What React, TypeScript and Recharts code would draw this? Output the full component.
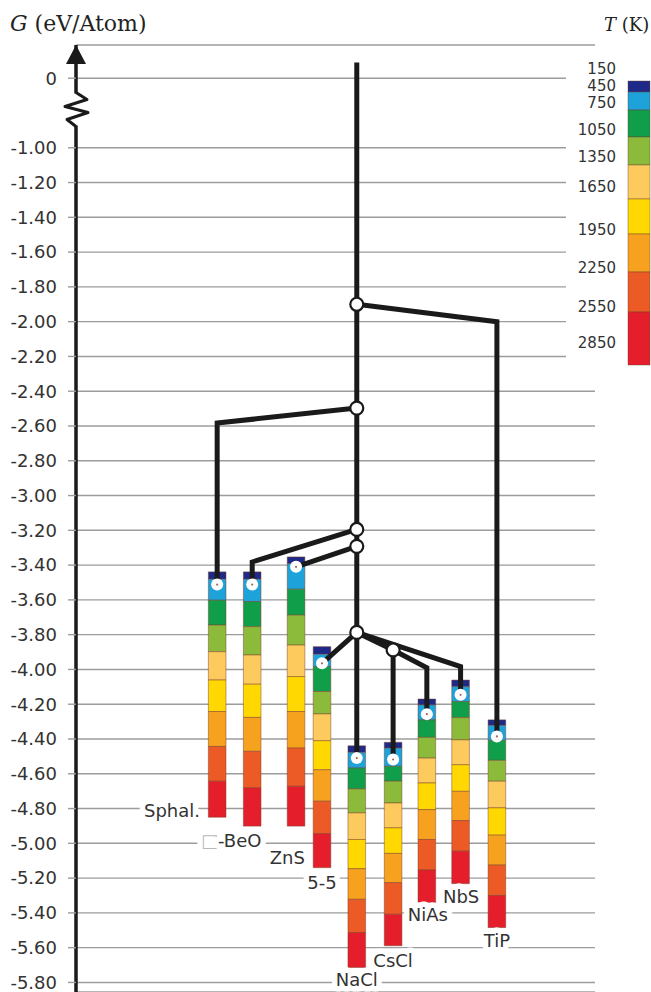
import React from "react";
import {
  ComposedChart,
  BarChart,
  Bar,
  Line,
  Scatter,
  XAxis,
  YAxis,
  CartesianGrid,
  ReferenceArea,
  ReferenceDot,
} from "recharts";

// G axis: the "0" tick sits above the axis break
const yTickValues = [
  -0.6, -1.0, -1.2, -1.4, -1.6, -1.8, -2.0, -2.2, -2.4, -2.6, -2.8, -3.0, -3.2,
  -3.4, -3.6, -3.8, -4.0, -4.2, -4.4, -4.6, -4.8, -5.0, -5.2, -5.4, -5.6, -5.8,
];
const yTickLabels = [
  "0", "-1.00", "-1.20", "-1.40", "-1.60", "-1.80", "-2.00", "-2.20", "-2.40",
  "-2.60", "-2.80", "-3.00", "-3.20", "-3.40", "-3.60", "-3.80", "-4.00",
  "-4.20", "-4.40", "-4.60", "-4.80", "-5.00", "-5.20", "-5.40", "-5.60", "-5.80",
];

// temperature bands (K)
const tempLabels = ["150", "450", "750", "1050", "1350", "1650", "1950", "2250", "2550", "2850"];
const bandColors = [
  "#1f2a88", "#1ea2da", "#119e4a", "#8cba3b", "#fdca5e",
  "#fed800", "#f6a21f", "#ec5a25", "#e51e2b",
];
const bandExtents = [11, 18, 27, 28, 34, 35, 38, 40, 53];
const tempTickOffsets = [-12, 5, 22, 49, 76, 106, 149, 187, 226, 262];

// structures, horizontal slot, G at 150,450,...,2850 K
const structures = ["Sphal.", "\u25A1-BeO", "ZnS", "5-5", "NaCl", "CsCl", "NiAs", "NbS", "TiP"];
const structureX = [27.2, 33.95, 42.4, 47.4, 54.1, 61.1, 67.6, 74.1, 81.1];
const edgesSphal = [-3.439, -3.481, -3.602, -3.745, -3.898, -4.061, -4.242, -4.443, -4.643, -4.85];
const edgesBeO = [-3.439, -3.481, -3.61, -3.754, -3.917, -4.085, -4.276, -4.471, -4.681, -4.901];
const edgesZnS = [-3.353, -3.392, -3.539, -3.688, -3.86, -4.041, -4.242, -4.452, -4.672, -4.901];
const edges55 = [-3.869, -3.913, -3.984, -4.127, -4.256, -4.41, -4.577, -4.758, -4.944, -5.14];
const edgesNaCl = [-4.439, -4.477, -4.567, -4.687, -4.825, -4.978, -5.146, -5.322, -5.513, -5.714];
const edgesCsCl = [-4.419, -4.452, -4.557, -4.643, -4.768, -4.911, -5.058, -5.226, -5.408, -5.589];
const edgesNiAs = [-4.17, -4.204, -4.29, -4.391, -4.51, -4.653, -4.806, -4.978, -5.153, -5.341];
const edgesNbS = [-4.061, -4.099, -4.185, -4.277, -4.405, -4.548, -4.701, -4.869, -5.045, -5.232];
const edgesTiP = [-4.29, -4.322, -4.408, -4.523, -4.643, -4.796, -4.953, -5.125, -5.3, -5.485];
const columnEdges = [
  edgesSphal, edgesBeO, edgesZnS, edges55, edgesNaCl, edgesCsCl, edgesNiAs, edgesNbS, edgesTiP,
];

// G where each tree branch meets its column (ground state)
const leafG = [-3.512, -3.512, -3.41, -3.965, -4.51, -4.518, -4.257, -4.146, -4.385];

// tree
const trunk = [{ x: 54.1, y: -0.51 }, { x: 54.1, y: -4.51 }];
const branchTiP = [{ x: 54.1, y: -1.9 }, { x: 81.1, y: -2.0 }, { x: 81.1, y: -4.385 }];
const branchSphal = [{ x: 54.1, y: -2.497 }, { x: 27.2, y: -2.583 }, { x: 27.2, y: -3.512 }];
const branchBeO = [{ x: 54.1, y: -3.195 }, { x: 33.95, y: -3.382 }, { x: 33.95, y: -3.512 }];
const branchZnS = [{ x: 54.1, y: -3.292 }, { x: 42.4, y: -3.41 }];
const branch55 = [{ x: 54.1, y: -3.787 }, { x: 47.4, y: -3.965 }];
const branchNbS = [{ x: 54.1, y: -3.787 }, { x: 74.1, y: -3.984 }, { x: 74.1, y: -4.146 }];
const branchSplit = [{ x: 54.1, y: -3.787 }, { x: 61.1, y: -3.888 }];
const branchNiAs = [{ x: 61.1, y: -3.888 }, { x: 67.6, y: -3.99 }, { x: 67.6, y: -4.257 }];
const branchCsCl = [{ x: 61.1, y: -3.888 }, { x: 61.1, y: -4.518 }];
const branches = [
  trunk, branchTiP, branchSphal, branchBeO, branchZnS, branch55, branchNbS,
  branchSplit, branchNiAs, branchCsCl,
];
const nodes = [
  { x: 54.1, y: -1.9 }, { x: 54.1, y: -2.497 }, { x: 54.1, y: -3.195 },
  { x: 54.1, y: -3.292 }, { x: 54.1, y: -3.787 }, { x: 61.1, y: -3.888 },
];

// name label anchors
const labelX = [18.5, 29.9, 40.7, 47.4, 54.1, 61.1, 67.8, 74.2, 81.1];
const labelY = [-4.81, -4.986, -5.083, -5.227, -5.783, -5.674, -5.41, -5.307, -5.559];

const HALF = 1.7;
const TEXT = "#333";
const INK = "#1a1a1a";
const SANS = "DejaVu Sans, sans-serif";
const SERIF = "DejaVu Serif, serif";

const leaves = structureX.map((x, i) => ({ x, y: leafG[i] }));
const labels = structures.map((name, i) => ({ x: labelX[i], y: labelY[i], name }));
const legendRow: Record<string, number | string> = { name: "T" };
bandExtents.forEach((v, i) => (legendRow[`b${i}`] = v));

function NameLabel(props: any) {
  const { cx, cy, payload } = props;
  const name: string = payload.name;
  const box = name.startsWith("\u25A1");
  return (
    <text
      x={cx}
      y={cy}
      dy="0.36em"
      textAnchor="middle"
      fontSize={18}
      fontFamily={SANS}
      fill={TEXT}
      stroke="#fff"
      strokeWidth={11}
      strokeLinejoin="round"
      paintOrder="stroke"
    >
      {box ? (
        <>
          <tspan fill="#b8b8b8">{"\u25A1"}</tspan>
          <tspan>{name.slice(1)}</tspan>
        </>
      ) : (
        name
      )}
    </text>
  );
}

export default function App() {
  return (
    <div
      style={{
        position: "absolute",
        left: 0,
        top: 0,
        width: 651,
        height: 992,
        background: "#fff",
        fontFamily: SANS,
        overflow: "hidden",
      }}
    >
      <ComposedChart width={651} height={992} margin={{ top: 45, right: 56, bottom: 0, left: 0 }}>
        <CartesianGrid horizontal vertical={false} stroke="#9c9c9c" strokeWidth={1.4} />
        <XAxis dataKey="x" type="number" domain={[0, 100]} hide />
        <YAxis
          dataKey="y"
          type="number"
          domain={[-5.855, -0.409]}
          ticks={yTickValues}
          interval={0}
          width={76}
          tickSize={8}
          tickMargin={11}
          axisLine={{ stroke: INK, strokeWidth: 3.5 }}
          tickLine={{ stroke: "#9c9c9c", strokeWidth: 1.4 }}
          tick={{ fontSize: 18, fill: TEXT, fontFamily: SANS }}
          tickFormatter={(v: number) => yTickLabels[yTickValues.indexOf(v)] ?? ""}
        />
        {columnEdges.map((edges, c) =>
          bandColors.map((color, b) => (
            <ReferenceArea
              key={`col-${c}-${b}`}
              x1={structureX[c] - HALF}
              x2={structureX[c] + HALF}
              y1={edges[b]}
              y2={edges[b + 1]}
              fill={color}
              fillOpacity={1}
              stroke="#7a3f2a"
              strokeOpacity={0.6}
              strokeWidth={0.8}
            />
          ))
        )}
        {branches.map((pts, i) => (
          <Line
            key={`br-${i}`}
            data={pts}
            dataKey="y"
            type="linear"
            stroke={INK}
            strokeWidth={5}
            dot={false}
            activeDot={false}
            isAnimationActive={false}
          />
        ))}
        <Scatter
          data={nodes}
          isAnimationActive={false}
          shape={(p: any) => (
            <circle cx={p.cx} cy={p.cy} r={6.5} fill="#fff" stroke={INK} strokeWidth={2.2} />
          )}
        />
        <Scatter
          data={leaves}
          isAnimationActive={false}
          shape={(p: any) => (
            <g>
              <circle cx={p.cx} cy={p.cy} r={6} fill="#fff" />
              <circle cx={p.cx} cy={p.cy} r={1.1} fill="#a06a5a" />
            </g>
          )}
        />
        <Scatter data={labels} isAnimationActive={false} shape={(p: any) => <NameLabel {...p} />} />
        <ReferenceDot
          x={0}
          y={-0.78}
          r={0}
          ifOverflow="visible"
          shape={(p: any) => (
            <g>
              <rect x={p.cx - 4} y={p.cy - 16} width={8} height={32} fill="#fff" />
              <polyline
                points={`${p.cx},${p.cy - 17} ${p.cx + 11},${p.cy - 10} ${p.cx - 11},${p.cy - 3} ${p.cx + 12},${p.cy + 3} ${p.cx - 9},${p.cy + 10} ${p.cx},${p.cy + 17}`}
                fill="none"
                stroke={INK}
                strokeWidth={3}
                strokeLinejoin="round"
              />
            </g>
          )}
        />
        <ReferenceDot
          x={0}
          y={-0.409}
          r={0}
          ifOverflow="visible"
          shape={(p: any) => (
            <polygon
              points={`${p.cx},${p.cy} ${p.cx - 10},${p.cy + 19} ${p.cx + 10},${p.cy + 19}`}
              fill={INK}
            />
          )}
        />
      </ComposedChart>

      <div
        style={{
          position: "absolute",
          left: 10,
          top: 11,
          fontFamily: SERIF,
          fontSize: 22,
          lineHeight: "26px",
          color: "#222",
          whiteSpace: "nowrap",
        }}
      >
        <i>G</i> (eV/Atom)
      </div>
      <div
        style={{
          position: "absolute",
          left: 604,
          top: 13,
          fontFamily: SERIF,
          fontSize: 18,
          lineHeight: "24px",
          color: "#222",
          whiteSpace: "nowrap",
        }}
      >
        <i>T</i> (K)
      </div>

      <div
        style={{
          position: "absolute",
          left: 566,
          top: 55,
          width: 85,
          height: 325,
          background: "#fff",
          fontFamily: SANS,
        }}
      >
        <BarChart
          width={85}
          height={325}
          data={[legendRow]}
          margin={{ top: 0, right: 0, bottom: 0, left: 0 }}
          barCategoryGap={0}
        >
          <XAxis dataKey="name" hide />
          <YAxis
            type="number"
            reversed
            allowDataOverflow
            domain={[-26, 299]}
            ticks={tempTickOffsets}
            interval={0}
            width={60}
            axisLine={false}
            tickLine={false}
            tickMargin={4}
            tick={{ fontSize: 15, fill: TEXT, fontFamily: SANS }}
            tickFormatter={(v: number) => tempLabels[tempTickOffsets.indexOf(v)] ?? ""}
          />
          {bandColors.map((color, i) => (
            <Bar
              key={`band-${i}`}
              dataKey={`b${i}`}
              stackId="t"
              fill={color}
              stroke="#6b3f30"
              strokeOpacity={0.6}
              strokeWidth={0.7}
              barSize={22}
              isAnimationActive={false}
            />
          ))}
        </BarChart>
      </div>
    </div>
  );
}
